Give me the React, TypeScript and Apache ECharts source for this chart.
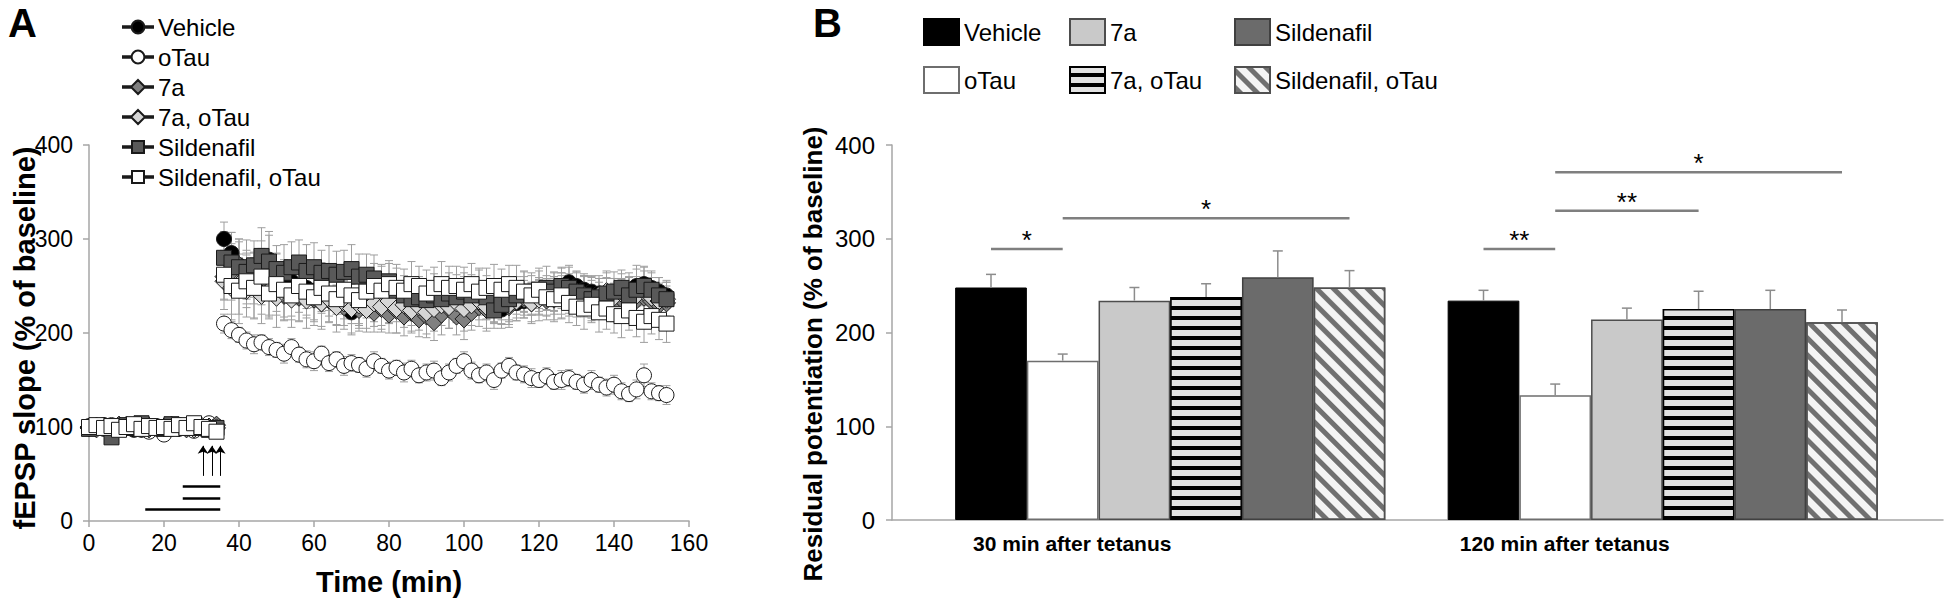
import React, { useEffect, useRef } from 'react';
import * as echarts from 'echarts';

const FONT = '"Liberation Sans", Arial, Helvetica, sans-serif';

// ---------------- Panel A data ----------------
const TIME_MIN = [
  0, 2, 4, 6, 8, 10, 12, 14, 16, 18, 20, 22, 24, 26, 28, 30, 32, 34,
  36, 38, 40, 42, 44, 46, 48, 50, 52, 54,
  56, 58, 60, 62, 64, 66, 68, 70, 72, 74,
  76, 78, 80, 82, 84, 86, 88, 90, 92, 94,
  96, 98, 100, 102, 104, 106, 108, 110, 112, 114,
  116, 118, 120, 122, 124, 126, 128, 130, 132, 134,
  136, 138, 140, 142, 144, 146, 148, 150, 152, 154,
];

const A_NAMES = ['Vehicle', 'oTau', '7a', '7a, oTau', 'Sildenafil', 'Sildenafil, oTau'];

const VEHICLE = [
  100, 99, 102, 98, 101, 100, 97, 103, 99, 101, 100, 98, 102, 99, 101, 100, 103, 99,
  300, 285, 272, 265, 262, 270, 278, 262, 258, 255,
  250, 248, 245, 243, 240, 238, 235, 222, 228, 232,
  230, 228, 226, 230, 228, 225, 232, 230, 235, 233,
  236, 238, 240, 238, 236, 232, 228, 225, 230, 232,
  234, 236, 238, 240, 244, 248, 254, 250, 246, 244,
  242, 240, 238, 240, 244, 250, 252, 248, 244, 240,
];
const OTAU = [
  101, 100, 98, 102, 99, 100, 101, 97, 95, 100, 92, 99, 98, 101, 96, 100, 104, 101,
  210, 203, 198, 192, 188, 190, 185, 182, 178, 185,
  177, 172, 170, 178, 168, 172, 165, 168, 166, 162,
  170, 165, 160, 163, 158, 162, 155, 158, 160, 152,
  158, 165, 170, 160, 155, 158, 150, 160, 165, 158,
  156, 152, 150, 154, 148, 150, 152, 148, 145, 150,
  145, 142, 145, 138, 135, 140, 155, 138, 136, 134,
];
const A7 = [
  99, 101, 100, 98, 102, 100, 99, 101, 98, 100, 99, 102, 100, 98, 101, 99, 100, 102,
  260, 265, 272, 262, 255, 250, 245, 248, 240, 242,
  238, 240, 236, 232, 235, 230, 228, 232, 225, 228,
  222, 226, 220, 224, 218, 222, 215, 218, 212, 220,
  226, 218, 215, 222, 228, 225, 230, 232, 228, 234,
  236, 232, 238, 235, 240, 238, 242, 236, 240, 238,
  235, 238, 232, 236, 240, 235, 238, 234, 230, 232,
];
const A7_OTAU = [
  100, 98, 101, 100, 99, 102, 100, 98, 101, 99, 100, 101, 99, 100, 98, 101, 100, 99,
  255, 248, 252, 245, 250, 240, 245, 238, 242, 236,
  240, 235, 238, 232, 236, 228, 232, 226, 230, 225,
  232, 228, 234, 226, 230, 224, 228, 222, 226, 230,
  228, 232, 226, 230, 234, 228, 232, 236, 230, 234,
  238, 232, 236, 240, 236, 242, 238, 244, 240, 236,
  240, 244, 238, 242, 236, 240, 244, 238, 234, 236,
];
const SILD = [
  98, 100, 101, 89, 100, 102, 99, 104, 101, 100, 98, 103, 100, 101, 99, 100, 97, 99,
  280, 275, 270, 265, 272, 282, 276, 268, 264, 270,
  275, 266, 270, 264, 266, 262, 265, 268, 260, 262,
  258, 250, 255, 245, 240, 236, 238, 235, 240, 236,
  242, 238, 244, 240, 246, 238, 224, 230, 236, 240,
  244, 242, 246, 248, 244, 250, 248, 244, 240, 236,
  238, 242, 244, 248, 240, 246, 250, 246, 240, 236,
];
const SILD_OTAU = [
  100, 102, 99, 101, 97, 100, 103, 98, 101, 99, 100, 98, 102, 99, 104, 100, 98, 95,
  262, 250, 245, 255, 248, 260, 242, 252, 246, 240,
  250, 244, 238, 248, 242, 236, 246, 240, 235, 244,
  250, 245, 252, 248, 245, 252, 250, 242, 248, 252,
  248, 250, 246, 252, 244, 248, 250, 246, 252, 248,
  244, 240, 246, 238, 236, 240, 232, 228, 226, 230,
  222, 226, 220, 218, 224, 216, 212, 218, 214, 210,
];

const VEHICLE_SEM = [
  4, 5, 3, 4, 5, 4, 3, 5, 4, 4, 3, 5, 4, 4, 5, 3, 4, 5,
  18, 22, 25, 20, 24, 28, 30, 22, 20, 18,
  20, 22, 18, 20, 16, 18, 20, 24, 18, 16,
  18, 20, 16, 18, 15, 17, 20, 18, 16, 18,
  16, 18, 20, 17, 15, 18, 16, 20, 18, 16,
  15, 17, 18, 16, 20, 22, 18, 16, 15, 17,
  16, 18, 15, 17, 20, 22, 18, 16, 15, 14,
];
const OTAU_SEM = [
  4, 3, 5, 4, 3, 5, 4, 6, 5, 4, 3, 5, 4, 4, 6, 4, 5, 4,
  10, 9, 8, 9, 10, 8, 9, 8, 10, 9,
  8, 9, 10, 8, 9, 8, 10, 9, 8, 9,
  10, 8, 9, 8, 10, 9, 8, 9, 10, 8,
  9, 8, 10, 9, 8, 9, 10, 8, 9, 8,
  9, 10, 8, 9, 8, 10, 9, 8, 9, 10,
  8, 9, 10, 9, 8, 10, 12, 9, 8, 10,
];
const A7_SEM = [
  5, 4, 5, 3, 4, 5, 4, 3, 5, 4, 4, 5, 3, 4, 5, 4, 3, 4,
  25, 30, 28, 26, 24, 30, 28, 25, 27, 24,
  26, 24, 22, 25, 23, 21, 24, 22, 20, 23,
  21, 22, 20, 24, 21, 22, 19, 23, 20, 22,
  21, 20, 22, 19, 21, 23, 20, 22, 19, 21,
  20, 22, 19, 21, 20, 23, 21, 19, 20, 22,
  19, 21, 20, 22, 19, 20, 21, 19, 20, 18,
];
const A7_OTAU_SEM = [
  4, 5, 4, 5, 3, 4, 5, 4, 4, 5, 3, 4, 5, 4, 4, 3, 5, 4,
  30, 34, 32, 28, 35, 30, 26, 32, 28, 30,
  27, 30, 26, 28, 25, 27, 24, 26, 28, 24,
  25, 27, 23, 26, 24, 22, 25, 23, 24, 22,
  23, 21, 24, 22, 20, 23, 21, 22, 24, 21,
  22, 20, 23, 21, 24, 22, 20, 21, 23, 20,
  21, 22, 20, 21, 23, 20, 22, 21, 19, 20,
];
const SILD_SEM = [
  5, 4, 4, 6, 5, 4, 5, 4, 3, 5, 4, 5, 4, 3, 5, 4, 5, 4,
  28, 32, 30, 34, 26, 30, 28, 25, 30, 27,
  24, 28, 26, 24, 27, 25, 23, 26, 24, 22,
  25, 23, 22, 24, 21, 23, 22, 20, 23, 21,
  22, 24, 20, 22, 21, 23, 19, 21, 22, 20,
  21, 22, 20, 23, 21, 19, 22, 20, 21, 23,
  20, 22, 21, 19, 20, 22, 21, 20, 19, 18,
];
const SILD_OTAU_SEM = [
  4, 5, 3, 4, 5, 4, 5, 3, 4, 5, 4, 4, 5, 3, 4, 5, 4, 5,
  26, 30, 35, 28, 32, 30, 27, 33, 29, 26,
  28, 25, 30, 27, 24, 28, 26, 23, 27, 25,
  24, 26, 22, 25, 23, 24, 21, 25, 22, 24,
  23, 21, 24, 22, 25, 21, 23, 22, 20, 24,
  22, 21, 23, 20, 22, 24, 21, 20, 22, 19,
  21, 22, 20, 23, 21, 20, 22, 19, 21, 20,
];

// drug application bars [start min, end min, level] and tetanus arrows (min)
const DRUG_BARS = [
  [15, 35, 13],
  [25, 35, 24.5],
  [25, 35, 37],
];
const TETANUS_ARROWS = [30.4, 32.8, 35];
const ARROW_RANGE = [48, 80];

// ---------------- Panel B data ----------------
const B_CATEGORIES = ['30 min after tetanus', '120 min after tetanus'];
const B_NAMES = ['Vehicle', 'oTau', '7a', '7a, oTau', 'Sildenafil', 'Sildenafil, oTau'];
const B_VEHICLE = [248, 234];
const B_OTAU = [170, 133];
const B_7A = [234, 214];
const B_7A_OTAU = [238, 225];
const B_SILD = [259, 225];
const B_SILD_OTAU = [248, 211];
const B_VEHICLE_SEM = [14, 11];
const B_OTAU_SEM = [7, 12];
const B_7A_SEM = [14, 12];
const B_7A_OTAU_SEM = [14, 19];
const B_SILD_SEM = [28, 20];
const B_SILD_OTAU_SEM = [18, 13];
// significance: [category, from bar, to bar, level]
const B_SIG = [
  [0, 0, 1, 289],
  [0, 1, 5, 322],
  [1, 0, 1, 289],
  [1, 1, 3, 330],
  [1, 1, 5, 371],
];
const B_SIG_TEXT = ['*', '*', '**', '**', '*'];

// ---------------- styles ----------------
const A_VALUES = [VEHICLE, OTAU, A7, A7_OTAU, SILD, SILD_OTAU];
const A_SEMS = [VEHICLE_SEM, OTAU_SEM, A7_SEM, A7_OTAU_SEM, SILD_SEM, SILD_OTAU_SEM];
const A_STYLE = [
  { symbol: 'circle', size: 15, color: '#000000' },
  { symbol: 'circle', size: 15, color: '#ffffff' },
  { symbol: 'diamond', size: 18, color: '#808080' },
  { symbol: 'diamond', size: 18, color: '#d6d6d6' },
  { symbol: 'rect', size: 15, color: '#595959' },
  { symbol: 'rect', size: 15, color: '#ffffff' },
];
const ICON_CIRCLE = 'path://M0,6.3H8.6V7.7H0Z M21.4,6.3H30V7.7H21.4Z M8.6,7A6.4,6.4 0 1 1 21.4,7A6.4,6.4 0 1 1 8.6,7Z';
const ICON_DIAMOND = 'path://M0,6.3H8V7.7H0Z M22,6.3H30V7.7H22Z M15,0L22,7L15,14L8,7Z';
const ICON_SQUARE = 'path://M0,6.3H9V7.7H0Z M21,6.3H30V7.7H21Z M9,1H21V13H9Z';
const A_ICONS = [ICON_CIRCLE, ICON_CIRCLE, ICON_DIAMOND, ICON_DIAMOND, ICON_SQUARE, ICON_SQUARE];

const AXIS_GRAY = '#a6a6a6';
const BAR_W = 71.7;
const B_LEFT = 760; // page x of panel B container

const B_VALUES = [B_VEHICLE, B_OTAU, B_7A, B_7A_OTAU, B_SILD, B_SILD_OTAU];
const B_SEMS = [B_VEHICLE_SEM, B_OTAU_SEM, B_7A_SEM, B_7A_OTAU_SEM, B_SILD_SEM, B_SILD_OTAU_SEM];
const B_STYLE: any[] = [
  { color: '#000000', borderColor: '#000000', borderWidth: 1 },
  { color: '#ffffff', borderColor: '#6e6e6e', borderWidth: 1.5 },
  { color: '#c9c9c9', borderColor: '#4d4d4d', borderWidth: 1.5 },
  {
    color: '#000000', borderColor: '#000000', borderWidth: 1.5,
    decal: { symbol: 'rect', symbolSize: 1, color: '#e2e2e2', dashArrayX: [1, 0], dashArrayY: [6, 4], rotation: 0 },
  },
  { color: '#6b6b6b', borderColor: '#404040', borderWidth: 1.5 },
  {
    color: '#f4f4f4', borderColor: '#505050', borderWidth: 1.5,
    decal: { symbol: 'rect', symbolSize: 1, color: '#707070', dashArrayX: [1, 0], dashArrayY: [5, 7], rotation: Math.PI / 4 },
  },
];

function textEl(x: number, y: number, text: string, size: number, bold: boolean, rotation = 0, align = 'center', vAlign = 'middle') {
  return {
    type: 'text',
    x,
    y,
    rotation,
    style: {
      text,
      font: `${bold ? 'bold ' : ''}${size}px ${FONT}`,
      fill: '#000',
      align,
      verticalAlign: vAlign,
      textAlign: align,
      textVerticalAlign: vAlign,
    },
  };
}

function buildA(): any {
  const errData: number[][] = [];
  A_VALUES.forEach((vals, s) => {
    vals.forEach((v, i) => errData.push([TIME_MIN[i], v, A_SEMS[s][i]]));
  });
  const axisCommon = {
    axisLine: { show: true, lineStyle: { color: AXIS_GRAY, width: 1.5 } },
    axisTick: { show: true, length: 6, inside: false, lineStyle: { color: AXIS_GRAY, width: 1.5 } },
    splitLine: { show: false },
  };
  return {
    animation: false,
    textStyle: { fontFamily: FONT },
    grid: { left: 89, top: 145, width: 600, height: 376 },
    xAxis: {
      type: 'value', min: 0, max: 160, interval: 20,
      ...axisCommon,
      axisLabel: { fontSize: 23, color: '#000', margin: 10, fontFamily: FONT },
      name: 'Time (min)', nameLocation: 'middle', nameGap: 46,
      nameTextStyle: { fontSize: 29, fontWeight: 'bold', color: '#000', fontFamily: FONT },
    },
    yAxis: {
      type: 'value', min: 0, max: 400, interval: 100,
      ...axisCommon,
      axisLabel: { fontSize: 23, color: '#000', margin: 16, fontFamily: FONT },
    },
    legend: {
      orient: 'vertical', left: 117, top: 10, itemWidth: 30, itemHeight: 14, itemGap: 6,
      selectedMode: false,
      textStyle: { fontSize: 24, color: '#000', fontFamily: FONT },
      data: A_NAMES.map((n, i) => ({ name: n, icon: A_ICONS[i] })),
    },
    graphic: [
      { ...textEl(8, 23, 'A', 40, true, 0, 'left', 'middle') },
      { ...textEl(25, 338, 'fEPSP slope (% of baseline)', 29, true, Math.PI / 2) },
    ],
    series: [
      {
        type: 'custom', name: 'sem', z: 1, silent: true,
        data: errData,
        encode: { x: 0, y: 1 },
        renderItem: (params: any, api: any) => {
          const x = api.value(0), y = api.value(1), e = api.value(2);
          const t = api.coord([x, y + e]);
          const b = api.coord([x, y - e]);
          const st = { stroke: '#9e9e9e', lineWidth: 1 };
          return {
            type: 'group',
            children: [
              { type: 'line', shape: { x1: t[0], y1: t[1], x2: b[0], y2: b[1] }, style: st },
              { type: 'line', shape: { x1: t[0] - 4, y1: t[1], x2: t[0] + 4, y2: t[1] }, style: st },
              { type: 'line', shape: { x1: b[0] - 4, y1: b[1], x2: b[0] + 4, y2: b[1] }, style: st },
            ],
          };
        },
      },
      ...A_VALUES.map((vals, s) => ({
        type: 'scatter', name: A_NAMES[s], z: 2,
        symbol: A_STYLE[s].symbol, symbolSize: A_STYLE[s].size,
        itemStyle: { color: A_STYLE[s].color, borderColor: '#1a1a1a', borderWidth: 1, opacity: 1 },
        data: vals.map((v, i) => [TIME_MIN[i], v]),
      })),
      {
        type: 'lines', coordinateSystem: 'cartesian2d', silent: true, z: 3,
        lineStyle: { color: '#000', width: 2.5, opacity: 1 },
        data: DRUG_BARS.map((d) => ({ coords: [[d[0], d[2]], [d[1], d[2]]] })),
      },
      {
        type: 'lines', coordinateSystem: 'cartesian2d', silent: true, z: 3,
        symbol: ['none', 'arrow'], symbolSize: 8,
        lineStyle: { color: '#000', width: 1, opacity: 1 },
        data: TETANUS_ARROWS.map((x) => ({ coords: [[x, ARROW_RANGE[0]], [x, ARROW_RANGE[1]]] })),
      },
    ],
  };
}

function buildB(): any {
  const errData: number[][] = [];
  B_VALUES.forEach((vals, s) => vals.forEach((v, c) => errData.push([c, s, v, B_SEMS[s][c]])));
  const legendCommon = {
    orient: 'vertical', top: 13, icon: 'rect', itemWidth: 35, itemHeight: 26, itemGap: 20,
    selectedMode: false,
    textStyle: { fontSize: 24, color: '#000', fontFamily: FONT },
  };
  return {
    animation: false,
    textStyle: { fontFamily: FONT },
    grid: [
      { left: 924 - B_LEFT, right: 37, top: 145, bottom: 84 },
      { left: 892 - B_LEFT, right: 3, top: 145, bottom: 84 },
    ],
    xAxis: [
      {
        type: 'category', gridIndex: 0, data: B_CATEGORIES,
        axisLine: { show: false }, axisTick: { show: false },
        axisLabel: {
          fontSize: 21, fontWeight: 'bold', color: '#000', margin: 13, fontFamily: FONT,
          padding: [0, 196, 0, 0],
        },
      },
      {
        type: 'value', gridIndex: 1, min: 0, max: 1,
        axisLine: { show: true, lineStyle: { color: AXIS_GRAY, width: 1.5 } },
        axisTick: { show: false }, axisLabel: { show: false }, splitLine: { show: false },
      },
    ],
    yAxis: [
      {
        type: 'value', gridIndex: 0, min: 0, max: 400, interval: 100, offset: 32,
        axisLine: { show: true, lineStyle: { color: AXIS_GRAY, width: 1.5 } },
        axisTick: { show: true, length: 6, lineStyle: { color: AXIS_GRAY, width: 1.5 } },
        axisLabel: { fontSize: 24, color: '#000', margin: 17, fontFamily: FONT },
        splitLine: { show: false },
      },
      { type: 'value', gridIndex: 1, min: 0, max: 400, show: false },
    ],
    legend: [
      { ...legendCommon, left: 918 - B_LEFT, data: [B_NAMES[0], B_NAMES[1]] },
      { ...legendCommon, left: 1064 - B_LEFT, data: [B_NAMES[2], B_NAMES[3]] },
      { ...legendCommon, left: 1229 - B_LEFT, data: [B_NAMES[4], B_NAMES[5]] },
    ],
    graphic: [
      { ...textEl(813 - B_LEFT, 23, 'B', 40, true, 0, 'left', 'middle') },
      { ...textEl(813 - B_LEFT, 354, 'Residual potentiation (% of baseline)', 26, true, Math.PI / 2) },
    ],
    series: [
      ...B_VALUES.map((vals, s) => ({
        type: 'bar', name: B_NAMES[s], xAxisIndex: 0, yAxisIndex: 0,
        barWidth: BAR_W, barGap: '0%',
        itemStyle: B_STYLE[s],
        data: vals,
      })),
      {
        type: 'custom', name: 'sem', xAxisIndex: 0, yAxisIndex: 0, z: 3, silent: true,
        data: errData,
        encode: { x: 0, y: 2 },
        renderItem: (params: any, api: any) => {
          const c = api.value(0), s = api.value(1), v = api.value(2), e = api.value(3);
          const base = api.coord([c, v]);
          const top = api.coord([c, v + e]);
          const x = base[0] + (s - 2.5) * BAR_W;
          const st = { stroke: '#8c8c8c', lineWidth: 1.5 };
          return {
            type: 'group',
            children: [
              { type: 'line', shape: { x1: x, y1: base[1], x2: x, y2: top[1] }, style: st },
              { type: 'line', shape: { x1: x - 5, y1: top[1], x2: x + 5, y2: top[1] }, style: st },
            ],
          };
        },
      },
      {
        type: 'custom', name: 'sig', xAxisIndex: 0, yAxisIndex: 0, z: 3, silent: true,
        data: B_SIG,
        encode: { x: 0, y: 3 },
        renderItem: (params: any, api: any) => {
          const c = api.value(0), f = api.value(1), t = api.value(2), h = api.value(3);
          const base = api.coord([c, h]);
          const x1 = base[0] + (f - 2.5) * BAR_W;
          const x2 = base[0] + (t - 2.5) * BAR_W;
          return {
            type: 'group',
            children: [
              { type: 'line', shape: { x1, y1: base[1], x2, y2: base[1] }, style: { stroke: '#7f7f7f', lineWidth: 2.5 } },
              {
                type: 'text', x: (x1 + x2) / 2, y: base[1] - 9,
                style: {
                  text: B_SIG_TEXT[params.dataIndex], font: `26px ${FONT}`, fill: '#000',
                  align: 'center', verticalAlign: 'middle', textAlign: 'center', textVerticalAlign: 'middle',
                },
              },
            ],
          };
        },
      },
    ],
  };
}

export default function App() {
  const refA = useRef<HTMLDivElement>(null);
  const refB = useRef<HTMLDivElement>(null);
  useEffect(() => {
    const a = echarts.init(refA.current as HTMLDivElement, null, { renderer: 'svg' });
    const b = echarts.init(refB.current as HTMLDivElement, null, { renderer: 'svg' });
    a.setOption(buildA());
    b.setOption(buildB());
    return () => {
      a.dispose();
      b.dispose();
    };
  }, []);
  return (
    <div style={{ position: 'fixed', left: 0, top: 0, width: 1946, height: 604, background: '#fff' }}>
      <div ref={refA} style={{ position: 'absolute', left: 0, top: 0, width: 760, height: 604 }} />
      <div ref={refB} style={{ position: 'absolute', left: B_LEFT, top: 0, width: 1946 - B_LEFT, height: 604 }} />
    </div>
  );
}
